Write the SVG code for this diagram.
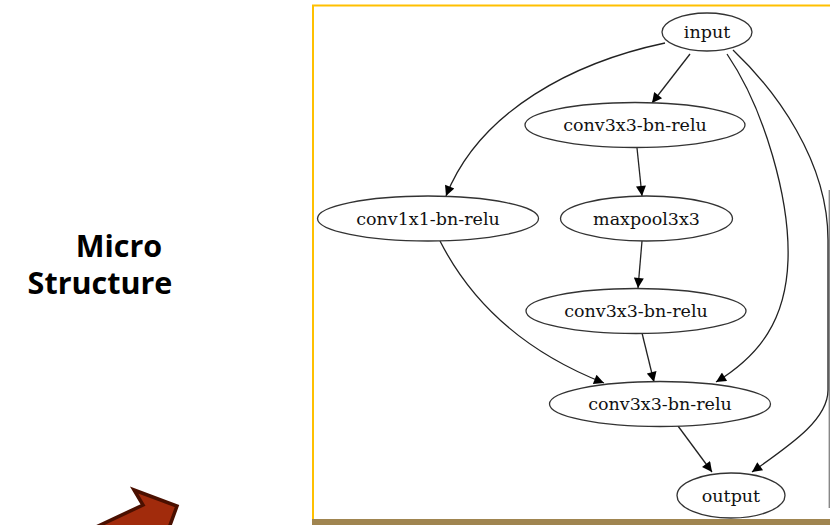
<svg xmlns="http://www.w3.org/2000/svg" width="830" height="525" viewBox="0 0 830 525">
  <defs>
    <marker id="arrow" viewBox="0 0 10 10" refX="10" refY="5" markerUnits="userSpaceOnUse" markerWidth="13" markerHeight="10" orient="auto">
      <path d="M0,0 L10,5 L0,10 z" fill="#000"/>
    </marker>
    <style>
      .node ellipse { fill: #fff; stroke: #333; stroke-width: 1.3; }
      .node text { font-family: "DejaVu Serif", "Liberation Serif", serif; font-size: 17.5px; fill: #111; text-anchor: middle; }
      .edge { fill: none; stroke: #222; stroke-width: 1.3; marker-end: url(#arrow); }
      .title { font-family: "Open Sans", "Noto Sans", sans-serif; font-weight: 700; font-size: 30.5px; fill: #000; text-anchor: middle; }
    </style>
  </defs>
  <rect width="830" height="525" fill="#fff"/>

  <!-- heading -->
  <g id="heading">
    <text class="title" x="119" y="257">Micro</text>
    <text class="title" x="100" y="294">Structure</text>
  </g>

  <!-- block arrow, lower left -->
  <g id="block-arrow">
    <polygon points="94,528 143,505 134,490 177,506 169,528" fill="#A12B0C" stroke="#4B1000" stroke-width="3.5" stroke-linejoin="miter"/>
  </g>

  <!-- frame around the cell graph -->
  <g id="frame">
    <path d="M313,521 L313,5.5 L830,5.5" fill="none" stroke="#FFC000" stroke-width="2"/>
    <rect x="312" y="519" width="518" height="6" fill="#A08550"/>
    <line x1="829.3" y1="190" x2="829.3" y2="508" stroke="#888" stroke-width="1.4"/>
  </g>

  <!-- connectors -->
  <g id="edges">
    <path class="edge" d="M665,43 C575,62 480,110 446,196"/>
    <path class="edge" d="M690,54 L652,103"/>
    <path class="edge" d="M727,54 C765,110 790,200 788,260 C786,320 760,355 716,382"/>
    <path class="edge" d="M733,50 C775,90 828,160 828,240 L828,390 C828,420 790,445 752,472"/>
    <path class="edge" d="M637,148 L642,196"/>
    <path class="edge" d="M642,241 L638,288"/>
    <path class="edge" d="M642,333 L654,382"/>
    <path class="edge" d="M440,241 C470,300 520,350 604,383"/>
    <path class="edge" d="M678,426 L712,472"/>
  </g>

  <!-- nodes -->
  <g id="input" class="node">
    <ellipse cx="707" cy="32" rx="45" ry="19"/>
    <text x="707" y="38">input</text>
  </g>
  <g id="conv3x3-a" class="node">
    <ellipse cx="635" cy="125" rx="110" ry="22.5"/>
    <text x="635" y="131">conv3x3-bn-relu</text>
  </g>
  <g id="conv1x1" class="node">
    <ellipse cx="428" cy="218.5" rx="110.5" ry="22.5"/>
    <text x="428" y="224.5">conv1x1-bn-relu</text>
  </g>
  <g id="maxpool3x3" class="node">
    <ellipse cx="646.5" cy="218.5" rx="86" ry="22.5"/>
    <text x="646.5" y="224.5">maxpool3x3</text>
  </g>
  <g id="conv3x3-b" class="node">
    <ellipse cx="636" cy="311" rx="110" ry="22.5"/>
    <text x="636" y="317">conv3x3-bn-relu</text>
  </g>
  <g id="conv3x3-c" class="node">
    <ellipse cx="660" cy="404" rx="110.5" ry="22.5"/>
    <text x="660" y="410">conv3x3-bn-relu</text>
  </g>
  <g id="output" class="node">
    <ellipse cx="731" cy="495.5" rx="54" ry="22.5"/>
    <text x="731" y="501.5">output</text>
  </g>
</svg>
